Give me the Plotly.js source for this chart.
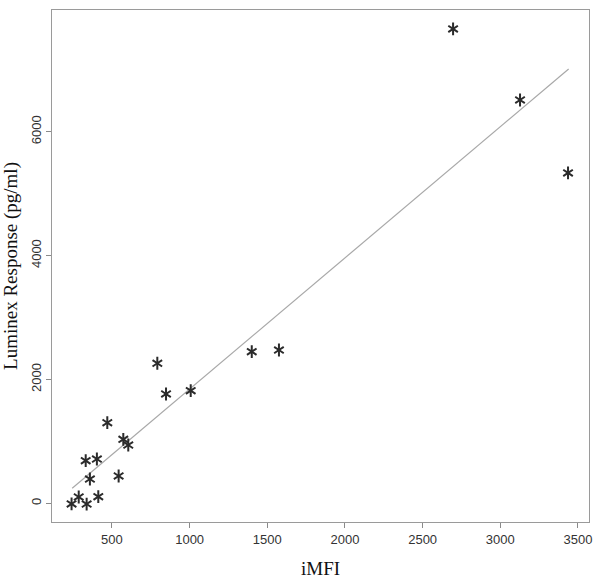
<!DOCTYPE html>
<html>
<head>
<meta charset="utf-8">
<script src="https://cdn.plot.ly/plotly-3.0.1.min.js"></script>
<style>
  html, body { margin: 0; padding: 0; background: #fff; }
  #chart { width: 600px; height: 579px; }
</style>
</head>
<body>
<div id="chart"></div>
<script>
// iMFI vs Luminex response
var imfi = [240, 286, 337, 331, 358, 403, 412, 470, 543, 573, 605, 792, 848, 1007, 1400, 1575, 2696, 3127, 3436];
var luminex = [-10, 102, -12, 688, 392, 715, 107, 1301, 441, 1033, 941, 2261, 1765, 1818, 2448, 2475, 7659, 6512, 5334];

// ends of the fitted line
var fitX = [244, 3440];
var fitY = [242, 7013];

var xTicks = [500, 1000, 1500, 2000, 2500, 3000, 3500];
var yTicks = [0, 2000, 4000, 6000];

document.addEventListener('DOMContentLoaded', function() {
    var fit = {
        x: fitX,
        y: fitY,
        mode: 'lines',
        line: { color: '#a8a8a8', width: 1.2 },
        hoverinfo: 'skip'
    };

    // two Y shapes on top of each other give a six-armed star
    var starA = {
        x: imfi,
        y: luminex,
        mode: 'markers',
        marker: { symbol: 'y-up-open', size: 8, color: '#2b2b2b', line: { color: '#2b2b2b', width: 2 } }
    };
    var starB = {
        x: imfi,
        y: luminex,
        mode: 'markers',
        marker: { symbol: 'y-down-open', size: 8, color: '#2b2b2b', line: { color: '#2b2b2b', width: 2 } }
    };

    var axisBase = {
        showgrid: false,
        zeroline: false,
        showline: true,
        mirror: true,
        linecolor: '#9a9a9a',
        linewidth: 1,
        ticks: 'outside',
        ticklen: 5,
        tickcolor: '#8a8a8a',
        tickfont: { family: 'Liberation Sans, Arial, sans-serif', size: 13, color: '#333' }
    };

    var layout = {
        width: 600,
        height: 579,
        margin: { l: 52, r: 11, t: 10, b: 57 },
        paper_bgcolor: '#fff',
        plot_bgcolor: '#fff',
        showlegend: false,
        xaxis: Object.assign({}, axisBase, {
            range: [114, 3571],
            tickvals: xTicks,
            ticktext: xTicks.map(String),
            title: {
                text: 'iMFI',
                font: { family: 'Liberation Serif, Times New Roman, serif', size: 19, color: '#111' },
                standoff: 16
            }
        }),
        yaxis: Object.assign({}, axisBase, {
            range: [-302, 7965],
            tickvals: yTicks,
            ticktext: yTicks.map(String),
            tickangle: -90,
            title: {
                text: 'Luminex Response (pg/ml)',
                font: { family: 'Liberation Serif, Times New Roman, serif', size: 19, color: '#111' },
                standoff: 6
            }
        })
    };

    Plotly.newPlot('chart', [fit, starA, starB], layout, { displayModeBar: false, staticPlot: true });
});
</script>
</body>
</html>
